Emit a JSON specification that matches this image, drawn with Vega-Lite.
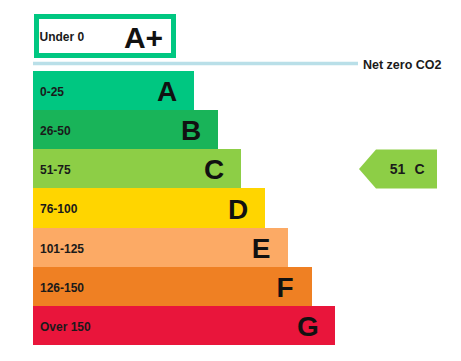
{
  "$schema": "https://vega.github.io/schema/vega-lite/v6.json",
  "width": 461,
  "height": 361,
  "autosize": {"type": "fit", "contains": "padding"},
  "padding": 0,
  "background": "white",
  "config": {"view": {"stroke": null}, "font": "Liberation Sans"},
  "datasets": {
    "bands": [
      {"rating": "A", "range": "0-25", "start": 33, "end": 194, "top": 71, "bottom": 110},
      {"rating": "B", "range": "26-50", "start": 33, "end": 218, "top": 110, "bottom": 149},
      {"rating": "C", "range": "51-75", "start": 33, "end": 241, "top": 149, "bottom": 188},
      {"rating": "D", "range": "76-100", "start": 33, "end": 265, "top": 188, "bottom": 228},
      {"rating": "E", "range": "101-125", "start": 33, "end": 288, "top": 228, "bottom": 267},
      {"rating": "F", "range": "126-150", "start": 33, "end": 312, "top": 267, "bottom": 306},
      {"rating": "G", "range": "Over 150", "start": 33, "end": 335, "top": 306, "bottom": 345}
    ],
    "top": [
      {"rating": "A+", "range": "Under 0", "start": 36.5, "end": 173.5, "top": 16.5, "bottom": 55.5}
    ],
    "netzero": [
      {"label": "Net zero CO2", "start": 33, "end": 358, "level": 63.5}
    ],
    "current": [
      {"score": "51", "rating": "C", "pos": 398, "level": 169}
    ]
  },
  "layer": [
    {
      "data": {"name": "bands"},
      "mark": {"type": "rect"},
      "encoding": {
        "x": {"field": "start", "type": "quantitative", "scale": {"domain": [0, 461], "nice": false, "zero": false}, "axis": null},
        "x2": {"field": "end"},
        "y": {"field": "top", "type": "quantitative", "scale": {"domain": [0, 361], "reverse": true, "nice": false, "zero": false}, "axis": null},
        "y2": {"field": "bottom"},
        "color": {
          "field": "rating", "type": "nominal", "legend": null,
          "scale": {"domain": ["A+", "A", "B", "C", "D", "E", "F", "G"],
                    "range": ["#00c781", "#00c781", "#19b459", "#8dce46", "#ffd500", "#fcaa65", "#ef8023", "#e9153b"]}
        }
      }
    },
    {
      "data": {"name": "bands"},
      "transform": [{"calculate": "(datum.top + datum.bottom) / 2", "as": "mid"}],
      "mark": {"type": "text", "align": "left", "baseline": "middle", "dx": 7, "dy": 1, "fontSize": 12, "fontWeight": "bold", "color": "#1a1a1a"},
      "encoding": {
        "x": {"field": "start", "type": "quantitative"},
        "y": {"field": "mid", "type": "quantitative"},
        "text": {"field": "range"}
      }
    },
    {
      "data": {"name": "bands"},
      "transform": [{"calculate": "(datum.top + datum.bottom) / 2", "as": "mid"}],
      "mark": {"type": "text", "align": "center", "baseline": "middle", "dx": -27, "dy": 2.5, "fontSize": 28, "fontWeight": "bold", "color": "#111111"},
      "encoding": {
        "x": {"field": "end", "type": "quantitative"},
        "y": {"field": "mid", "type": "quantitative"},
        "text": {"field": "rating"}
      }
    },
    {
      "data": {"name": "top"},
      "mark": {"type": "rect", "fill": "white", "stroke": "#00c781", "strokeWidth": 5},
      "encoding": {
        "x": {"field": "start", "type": "quantitative"},
        "x2": {"field": "end"},
        "y": {"field": "top", "type": "quantitative"},
        "y2": {"field": "bottom"}
      }
    },
    {
      "data": {"name": "top"},
      "transform": [{"calculate": "(datum.top + datum.bottom) / 2", "as": "mid"}],
      "mark": {"type": "text", "align": "left", "baseline": "middle", "dx": 3, "dy": 1, "fontSize": 12, "fontWeight": "bold", "color": "#1a1a1a"},
      "encoding": {
        "x": {"field": "start", "type": "quantitative"},
        "y": {"field": "mid", "type": "quantitative"},
        "text": {"field": "range"}
      }
    },
    {
      "data": {"name": "top"},
      "transform": [{"calculate": "(datum.top + datum.bottom) / 2", "as": "mid"}],
      "mark": {"type": "text", "align": "center", "baseline": "middle", "dx": -30, "dy": 2.5, "fontSize": 30, "fontWeight": "bold", "color": "#111111"},
      "encoding": {
        "x": {"field": "end", "type": "quantitative"},
        "y": {"field": "mid", "type": "quantitative"},
        "text": {"field": "rating"}
      }
    },
    {
      "data": {"name": "netzero"},
      "mark": {"type": "rule", "color": "#b9dfe8", "strokeWidth": 3.5},
      "encoding": {
        "x": {"field": "start", "type": "quantitative"},
        "x2": {"field": "end"},
        "y": {"field": "level", "type": "quantitative"}
      }
    },
    {
      "data": {"name": "netzero"},
      "mark": {"type": "text", "align": "left", "baseline": "middle", "dx": 5, "dy": 1, "fontSize": 12.5, "fontWeight": "bold", "color": "#1a1a1a"},
      "encoding": {
        "x": {"field": "end", "type": "quantitative"},
        "y": {"field": "level", "type": "quantitative"},
        "text": {"field": "label"}
      }
    },
    {
      "data": {"name": "current"},
      "mark": {"type": "point", "filled": true, "opacity": 1, "color": "#8dce46", "size": 6084,
               "shape": "M -1 0 L -0.564 -0.5 L 1 -0.5 L 1 0.5 L -0.564 0.5 Z"},
      "encoding": {
        "x": {"field": "pos", "type": "quantitative"},
        "y": {"field": "level", "type": "quantitative"}
      }
    },
    {
      "data": {"name": "current"},
      "mark": {"type": "text", "align": "center", "baseline": "middle", "dx": -0.5, "dy": 1, "fontSize": 14, "fontWeight": "bold", "color": "#1a1a1a"},
      "encoding": {
        "x": {"field": "pos", "type": "quantitative"},
        "y": {"field": "level", "type": "quantitative"},
        "text": {"field": "score"}
      }
    },
    {
      "data": {"name": "current"},
      "mark": {"type": "text", "align": "center", "baseline": "middle", "dx": 21.5, "dy": 1, "fontSize": 14, "fontWeight": "bold", "color": "#1a1a1a"},
      "encoding": {
        "x": {"field": "pos", "type": "quantitative"},
        "y": {"field": "level", "type": "quantitative"},
        "text": {"field": "rating"}
      }
    }
  ]
}
